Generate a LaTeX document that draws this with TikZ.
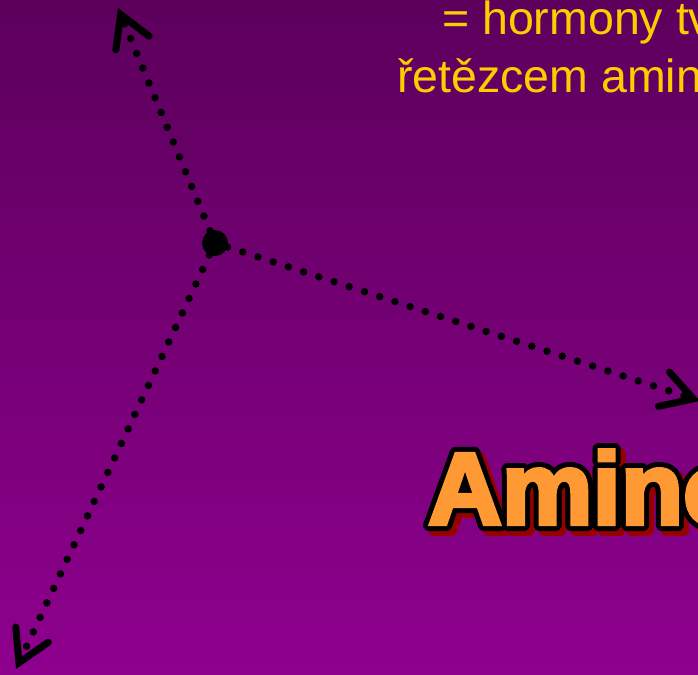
\documentclass[tikz,border=0pt]{standalone}
\usepackage{fontspec}
\setmainfont{Liberation Sans}
\newfontfamily\bigfont[FakeBold=4]{Liberation Sans Bold}
\usetikzlibrary{arrows.meta}
\definecolor{bgtop}{RGB}{92,0,92}
\definecolor{bgbot}{RGB}{142,0,142}
\definecolor{ytext}{RGB}{255,204,0}
\definecolor{orangefill}{RGB}{255,153,51}
\definecolor{shadowred}{RGB}{150,0,0}
\tikzset{
  captext/.style={anchor=base west, inner sep=0, text=ytext, font=\fontsize{46.5pt}{56pt}\selectfont},
  bigtext/.style={anchor=base west, inner sep=0, font=\bigfont\fontsize{102pt}{110pt}\selectfont},
  dotline/.style={line width=7.5pt, dash pattern=on 0pt off 16pt, line cap=round,
    -{Straight Barb[length=31pt, width=36pt, line width=7pt, line cap=round]}},
  hub/.style={circle, fill=black, minimum size=26pt, inner sep=0}
}
\begin{document}
\begin{tikzpicture}[x=1pt,y=-1pt]
\useasboundingbox (0,0) rectangle (698,674);
\clip (0,0) rectangle (698,674);
\shade[top color=bgtop, bottom color=bgbot] (0,0) rectangle (698,674);

% caption text (cut off at the right edge)
\node[captext] (line1) at (442,35) {= hormony tv};
\node[captext] (line2) at (397,93) {řetězcem amin};

% big title with shadow and outline
\foreach \a [count=\i] in {0,22.5,...,337.5}
  \node[bigtext, text=shadowred, xshift={5+5*cos(\a)}, yshift={-5-5*sin(\a)}] (shad\i) at (428,524) {Amino};
\foreach \a [count=\i] in {0,22.5,...,337.5}
  \node[bigtext, text=black, xshift={5*cos(\a)}, yshift={5*sin(\a)}] (outl\i) at (428,524) {Amino};
\node[bigtext, text=orangefill] (title) at (428,524) {Amino};

% dotted arrows
\node[hub] (c) at (215,243) {};
\coordinate (tT) at (118,8);
\coordinate (tB) at (16,669);
\coordinate (tR) at (700,401);
\draw[dotline] (c) -- (tT);
\draw[dotline] (c) -- (tB);
\draw[dotline] (c) -- (tR);
\end{tikzpicture}
\end{document}
